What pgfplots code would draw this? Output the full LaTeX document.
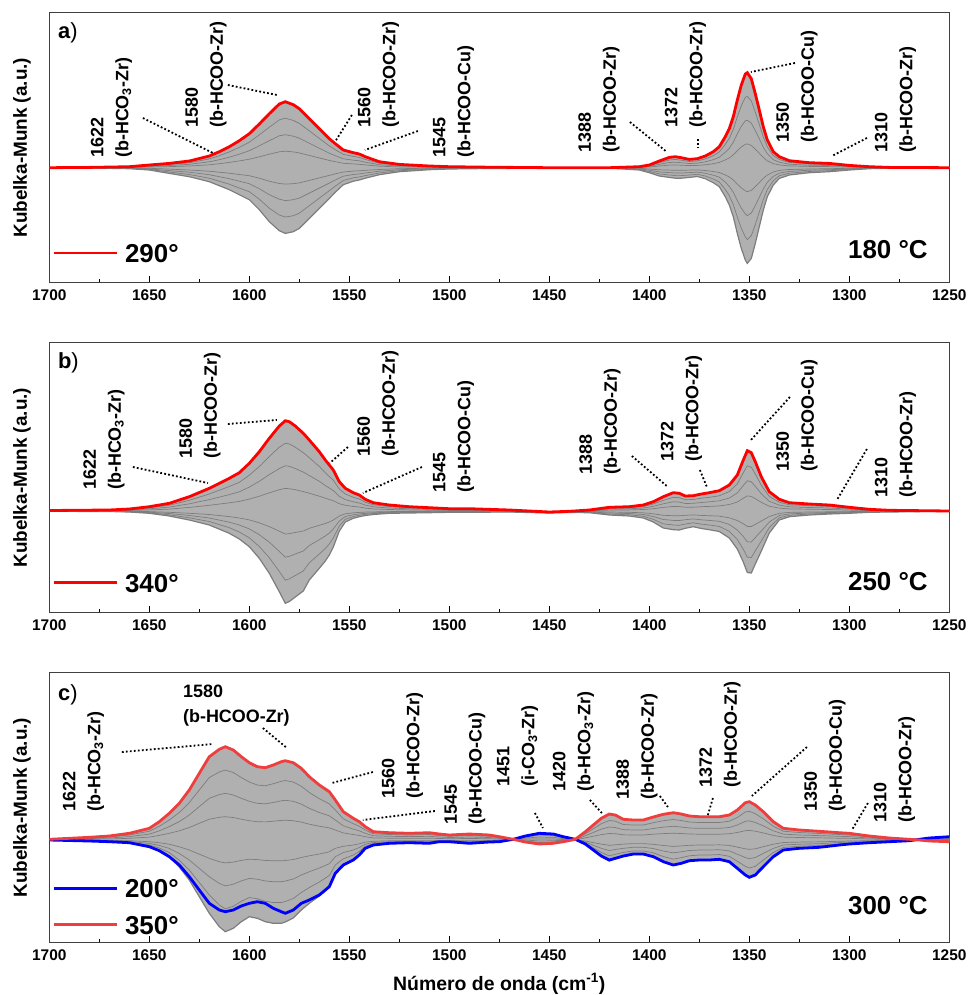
\documentclass[border=0pt]{standalone}
\usepackage{fontspec}
\setmainfont{Liberation Sans}
\usepackage{pgfplots}
\usepackage{pgfplotstable}
\usepgfplotslibrary{fillbetween}
\pgfplotsset{compat=1.18}

\definecolor{kred}{RGB}{255,0,0}
\definecolor{kredc}{RGB}{238,62,62}
\definecolor{kblue}{RGB}{0,0,255}
\definecolor{kgray}{RGB}{125,125,125}
\definecolor{kfill}{RGB}{176,176,176}

% panel a: x, red (290), lower gray envelope, intermediate gray spectra
\pgfplotstableread{
x R L a1 a2 a3 b1 b2 b3
1700 0 0 0 0 0 0 0 0
1680 0.3 -0.3 0.2 0.2 0.1 -0.1 -0.2 -0.2
1660 1 -1 0.8 0.5 0.3 -0.3 -0.5 -0.8
1650 2.7 -2.3 2.0 1.4 0.7 -0.6 -1.2 -1.7
1640 4.3 -5.7 3.2 2.2 1.1 -1.4 -2.9 -4.3
1630 6.7 -9 5.0 3.4 1.7 -2.3 -4.5 -6.8
1620 11.7 -14 8.8 5.9 2.9 -3.5 -7 -10.5
1615 16 -18 12 8 4 -4.5 -9 -13.5
1610 21 -22 15.8 10.5 5.3 -5.5 -11 -16.5
1605 27 -27 20.3 13.5 6.8 -6.8 -13.5 -20.3
1600 34 -32 25.5 17 8.5 -8 -16 -24
1595 43.7 -42 32.8 21.9 10.9 -10.5 -21 -31.5
1590 54 -54 40.5 27 13.5 -13.5 -27 -40.5
1585 63.7 -63 47.8 31.9 15.9 -15.8 -31.5 -47.3
1582 66 -65.7 49.5 33 16.5 -16.4 -32.9 -49.3
1578 63 -64 47.3 31.5 15.8 -16 -32 -48
1575 59 -60.7 44.3 29.5 14.8 -15.2 -30.4 -45.5
1570 49 -50.7 36.8 24.5 12.3 -12.7 -25.4 -38
1565 39 -40.7 29.3 19.5 9.8 -10.2 -20.4 -30.5
1560 29 -30.7 21.8 14.5 7.3 -7.7 -15.4 -23
1557 24 -24.5 18 12 6 -6.1 -12.3 -18.4
1553 17.7 -17 13.3 8.9 4.4 -4.3 -8.5 -12.8
1548 15 -13.5 11.3 7.5 3.8 -3.4 -6.8 -10.1
1545 13.7 -12.3 10.3 6.9 3.4 -3.1 -6.2 -9.2
1542 11 -10.5 8.3 5.5 2.8 -2.6 -5.3 -7.9
1535 6 -7 4.5 3 1.5 -1.8 -3.5 -5.3
1525 3.3 -4 2.5 1.7 0.8 -1 -2 -3
1510 1.7 -2 1.3 0.9 0.4 -0.5 -1 -1.5
1500 1 -1.3 0.8 0.5 0.3 -0.3 -0.7 -1
1480 0.5 -0.8 0.4 0.3 0.1 -0.2 -0.4 -0.6
1450 0 -0.5 0 0 0 -0.1 -0.3 -0.4
1420 0 -0.5 0 0 0 -0.1 -0.3 -0.4
1405 1 -2.3 0.8 0.5 0.3 -0.6 -1.2 -1.7
1400 2.7 -5 2 1.4 0.7 -1.3 -2.5 -3.8
1395 6.7 -8.3 5 3.4 1.7 -2.1 -4.2 -6.2
1390 10.3 -9.7 7.7 5.2 2.6 -2.4 -4.9 -7.3
1387 11 -10.5 8.3 5.5 2.8 -2.6 -5.3 -7.9
1384 10 -10.5 7.5 5 2.5 -2.6 -5.3 -7.9
1380 8.3 -9.7 6.2 4.2 2.1 -2.4 -4.9 -7.3
1376 9 -8.8 6.8 4.5 2.3 -2.2 -4.4 -6.6
1372 11.7 -11 8.8 5.9 2.9 -2.8 -5.5 -8.3
1368 16 -15 12 8 4 -3.8 -7.5 -11.3
1365 21 -19 15.8 10.5 5.3 -4.8 -9.5 -14.3
1362 31 -29 23.3 15.5 7.8 -7.3 -14.5 -21.8
1360 39 -37.3 29.3 19.5 9.8 -9.3 -18.7 -28
1358 51 -49 38.3 25.5 12.8 -12.3 -24.5 -36.8
1356 67.7 -65.7 50.8 33.9 16.9 -16.4 -32.9 -49.3
1354 82.7 -80.7 62 41.4 20.7 -20.2 -40.4 -60.5
1352 93.7 -92.3 70.3 46.9 23.4 -23.1 -46.2 -69.2
1351 95 -95.7 71.3 47.5 23.8 -23.9 -47.9 -71.8
1349 89 -90.7 66.8 44.5 22.3 -22.7 -45.4 -68
1347 74 -75.7 55.5 37 18.5 -18.9 -37.9 -56.8
1345 57.7 -59 43.3 28.9 14.4 -14.8 -29.5 -44.3
1343 41 -42.3 30.8 20.5 10.3 -10.6 -21.2 -31.7
1341 27.7 -29 20.8 13.9 6.9 -7.3 -14.5 -21.8
1338 16 -17.3 12 8 4 -4.3 -8.7 -13
1335 11 -10.7 8.3 5.5 2.8 -2.7 -5.4 -8
1330 7 -7.3 5.3 3.5 1.8 -1.8 -3.7 -5.5
1320 5 -5 3.8 2.5 1.3 -1.3 -2.5 -3.8
1310 4.3 -4 3.2 2.2 1.1 -1 -2 -3
1300 2.3 -2.3 1.7 1.2 0.6 -0.6 -1.2 -1.7
1290 1 -1 0.8 0.5 0.3 -0.3 -0.5 -0.8
1280 0.3 -0.5 0.2 0.2 0.1 -0.1 -0.3 -0.4
1250 0 0 0 0 0 0 0 0
}\tabA

% panel b: x, red (340), lower gray envelope, intermediate gray spectra
\pgfplotstableread{
x R L a1 a2 a3 b1 b2 b3
1700 0.5 -0.3 0.4 0.3 0.1 -0.1 -0.2 -0.2
1670 1 -0.5 0.8 0.5 0.3 -0.1 -0.3 -0.4
1660 2 -1 1.5 1 0.5 -0.3 -0.5 -0.8
1650 4.3 -2.3 3.2 2.2 1.1 -0.6 -1.2 -1.7
1640 7.7 -5 5.8 3.9 1.9 -1.3 -2.5 -3.8
1630 14.3 -9 10.7 7.2 3.6 -2.3 -4.5 -6.8
1620 22.7 -14 17 11.4 5.7 -3.5 -7 -10.5
1610 32.7 -22.3 24.5 16.4 8.2 -5.6 -11.2 -16.7
1605 38.3 -28 28.7 19.2 9.6 -7 -14 -21
1600 47.7 -35.7 35.8 23.9 11.9 -8.9 -17.9 -26.8
1595 59.3 -47.3 44.5 29.7 14.8 -11.8 -23.7 -35.5
1590 72.7 -62.3 54.5 36.4 18.2 -15.6 -31.2 -46.7
1585 85 -80.7 63.8 42.5 21.3 -20.2 -40.4 -60.5
1582 90.3 -92.3 67.7 45.2 22.6 -23.1 -46.2 -69.2
1580 89.3 -90.5 67 44.7 22.3 -22.6 -45.3 -67.9
1577 85 -86 63.8 42.5 21.3 -21.5 -43 -64.5
1573 77.7 -80 58.3 38.9 19.4 -20 -40 -60
1570 71 -69 53.3 35.5 17.8 -17.3 -34.5 -51.8
1565 59.3 -57.3 44.5 29.7 14.8 -14.3 -28.7 -43
1562 51 -50 38.3 25.5 12.8 -12.5 -25 -37.5
1560 46 -44 34.5 23 11.5 -11 -22 -33
1558 41 -36 30.8 20.5 10.3 -9 -18 -27
1555 29.3 -20 22 14.7 7.3 -5 -10 -15
1552 22.7 -11 17 11.4 5.7 -2.8 -5.5 -8.3
1548 18.3 -7.3 13.7 9.2 4.6 -1.8 -3.7 -5.5
1545 16 -5.7 12 8 4 -1.4 -2.9 -4.3
1542 11.7 -4.5 8.8 5.9 2.9 -1.1 -2.3 -3.4
1538 8.3 -3.5 6.2 4.2 2.1 -0.9 -1.8 -2.6
1530 6 -2.3 4.5 3 1.5 -0.6 -1.2 -1.7
1520 4.3 -2 3.2 2.2 1.1 -0.5 -1 -1.5
1510 3.3 -1.7 2.5 1.7 0.8 -0.4 -0.9 -1.3
1500 2.3 -1.3 1.7 1.2 0.6 -0.3 -0.7 -1
1490 2.3 -1.3 1.7 1.2 0.6 -0.3 -0.7 -1
1470 1 -1 0.8 0.5 0.3 -0.3 -0.5 -0.8
1450 -1 -2 -1 -1.2 -1.4 -1.5 -1.7 -1.8
1440 -0.3 -1.5 -0.5 -0.7 -0.9 -1 -1.2 -1.3
1430 1 -1.7 0.8 0.5 0.3 -0.4 -0.9 -1.3
1420 3.7 -4 2.8 1.9 0.9 -1 -2 -3
1410 4.3 -5 3.2 2.2 1.1 -1.3 -2.5 -3.8
1403 6 -7 4.5 3 1.5 -1.8 -3.5 -5.3
1398 9.3 -11 7 4.7 2.3 -2.8 -5.5 -8.3
1393 14.3 -17 10.7 7.2 3.6 -4.3 -8.5 -12.8
1388 18.3 -18.7 13.7 9.2 4.6 -4.7 -9.4 -14
1385 17.7 -19 13.3 8.9 4.4 -4.8 -9.5 -14.3
1382 15 -17.3 11.3 7.5 3.8 -4.3 -8.7 -13
1378 15.3 -15.7 11.5 7.7 3.8 -3.9 -7.9 -11.8
1374 17 -17.5 12.8 8.5 4.3 -4.4 -8.8 -13.1
1370 18.3 -18.7 13.7 9.2 4.6 -4.7 -9.4 -14
1365 20.3 -20.5 15.2 10.2 5.1 -5.1 -10.3 -15.4
1360 26 -27 19.5 13 6.5 -6.8 -13.5 -20.3
1356 36 -38 27 18 9 -9.5 -19 -28.5
1353 51 -51 38.3 25.5 12.8 -12.8 -25.5 -38.3
1351 60.3 -61.5 45.2 30.2 15.1 -15.4 -30.8 -46.1
1349 58.3 -62 43.7 29.2 14.6 -15.5 -31 -46.5
1347 49.3 -53 37 24.7 12.3 -13.3 -26.5 -39.8
1344 34.3 -40 25.7 17.2 8.6 -10 -20 -30
1340 19.3 -22 14.5 9.7 4.8 -5.5 -11 -16.5
1335 11.7 -9 8.8 5.9 2.9 -2.3 -4.5 -6.8
1330 8.3 -5.7 6.2 4.2 2.1 -1.4 -2.9 -4.3
1320 7 -4 5.3 3.5 1.8 -1 -2 -3
1310 6 -3 4.5 3 1.5 -0.8 -1.5 -2.3
1300 3.7 -2.3 2.8 1.9 0.9 -0.6 -1.2 -1.7
1290 1.7 -1.3 1.3 0.9 0.4 -0.3 -0.7 -1
1280 0.7 -1 0.5 0.4 0.2 -0.3 -0.5 -0.8
1250 0 -0.3 0 0 0 -0.1 -0.2 -0.2
}\tabB

% panel c: x, red (350), blue (200), lower and upper gray envelope, intermediate gray spectra
\pgfplotstableread{
x R B L U a1 a2 a3 b1 b2 b3
1700 0.7 0 0 0.7 0.5 0.4 0.2 0 0 0
1680 2.7 -1 -1 2.7 2 1.4 0.7 -0.3 -0.5 -0.8
1670 4 -1.7 -1.7 4 3 2 1 -0.4 -0.9 -1.3
1660 6.7 -2.7 -2.7 6.7 5 3.4 1.7 -0.7 -1.4 -2
1650 11.7 -6.7 -6.7 11.7 8.8 5.9 2.9 -1.7 -3.4 -5
1645 18.3 -10.7 -10.7 18.3 13.7 9.2 4.6 -2.7 -5.4 -8
1640 26.7 -16.7 -16.7 26.7 20 13.4 6.7 -4.2 -8.4 -12.5
1635 36.7 -25 -27 36.7 27.5 18.4 9.2 -6.8 -13.5 -20.3
1630 50 -36.7 -40 50 37.5 25 12.5 -10 -20 -30
1625 66.7 -50 -56.7 66.7 50 33.4 16.7 -14.2 -28.4 -42.5
1620 83.3 -63.3 -73.3 83.3 62.5 41.7 20.8 -18.3 -36.7 -55
1615 90.7 -70 -86.7 90.7 68 45.4 22.7 -21.7 -43.4 -65
1612 93.3 -71.7 -91.7 93.3 70 46.7 23.3 -22.9 -45.9 -68.8
1608 90 -70 -88.3 90 67.5 45 22.5 -22.1 -44.2 -66.2
1604 83.3 -66 -81.7 83.3 62.5 41.7 20.8 -20.4 -40.9 -61.3
1600 77.3 -63.3 -76.7 77.3 58 38.7 19.3 -19.2 -38.4 -57.5
1596 73.3 -61.7 -78.3 73.3 55 36.7 18.3 -19.6 -39.2 -58.7
1592 72.3 -63.3 -81.7 72.3 54.2 36.2 18.1 -20.4 -40.9 -61.3
1588 75 -68.3 -83.3 75 56.3 37.5 18.8 -20.8 -41.7 -62.5
1584 78.3 -71.7 -83.3 78.3 58.7 39.2 19.6 -20.8 -41.7 -62.5
1582 79.3 -73.3 -82 79.3 59.5 39.7 19.8 -20.5 -41 -61.5
1578 77.3 -70 -78 77.3 58 38.7 19.3 -19.5 -39 -58.5
1574 71.7 -63.3 -70 71.7 53.8 35.9 17.9 -17.5 -35 -52.5
1570 63.3 -60 -63.3 63.3 47.5 31.7 15.8 -15.8 -31.7 -47.5
1565 55 -55 -56 55 41.3 27.5 13.8 -14 -28 -42
1560 48.3 -46.7 -47.3 48.3 36.2 24.2 12.1 -11.8 -23.7 -35.5
1557 40 -33.3 -33.3 40 30 20 10 -8.3 -16.7 -25
1553 28.3 -25 -25 28.3 21.2 14.2 7.1 -6.3 -12.5 -18.8
1548 21.7 -20 -20 21.7 16.3 10.9 5.4 -5 -10 -15
1545 18.3 -15 -15 18.3 13.7 9.2 4.6 -3.8 -7.5 -11.3
1542 13.3 -8.3 -8.3 13.3 10 6.7 3.3 -2.1 -4.2 -6.2
1538 8.3 -5 -5 8.3 6.2 4.2 2.1 -1.3 -2.5 -3.8
1530 7.3 -3.3 -3.3 7.3 5.5 3.7 1.8 -0.8 -1.7 -2.5
1520 6.7 -2.7 -2.7 6.7 5 3.4 1.7 -0.7 -1.4 -2
1510 7.3 -3.3 -3.3 7.3 5.5 3.7 1.8 -0.8 -1.7 -2.5
1505 6 -1.7 -1.7 6 4.5 3 1.5 -0.4 -0.9 -1.3
1500 5 -1.7 -1.7 5 3.8 2.5 1.3 -0.4 -0.9 -1.3
1490 6 -3.3 -3.3 6 4.5 3 1.5 -0.8 -1.7 -2.5
1480 5 -2 -2 5 3.8 2.5 1.3 -0.5 -1 -1.5
1475 3.3 -1.7 -1.7 3.3 2.5 1.7 0.8 -0.4 -0.9 -1.3
1468 0.7 0.7 0.7 0.7 0.5 0.4 0.2 0.2 0.4 0.5
1462 -2 4 -2 4 3 2 1 0 -1 -1.5
1455 -4 6.7 -4 6.7 5 3 1 -1 -2.5 -3.5
1448 -3.3 6 -3.3 6 4.5 2.7 1 -0.7 -2 -3
1443 -1.7 3.3 -1.7 3.3 2.3 1.3 0.5 -0.3 -0.8 -1.3
1437 0.7 0.7 0.7 0.7 0.5 0.4 0.2 0.2 0.4 0.5
1432 8.3 -4 -4 8.3 6.2 4.2 2.1 -1 -2 -3
1428 15 -10 -10.5 15 11.3 7.5 3.8 -2.6 -5.3 -7.9
1424 21.7 -16 -16.5 21.7 16.3 10.9 5.4 -4.1 -8.3 -12.4
1420 26 -20 -21 26 19.5 13 6.5 -5.3 -10.5 -15.8
1417 25 -18.3 -19 25 18.8 12.5 6.3 -4.8 -9.5 -14.3
1413 20.7 -16 -16.5 20.7 15.5 10.4 5.2 -4.1 -8.3 -12.4
1408 20 -14 -14.5 20 15 10 5 -3.6 -7.3 -10.9
1403 20 -14 -14.5 20 15 10 5 -3.6 -7.3 -10.9
1398 23 -16.7 -17 23 17.3 11.5 5.8 -4.3 -8.5 -12.8
1393 25.7 -21.7 -22 25.7 19.3 12.9 6.4 -5.5 -11 -16.5
1388 27.3 -25 -25.5 27.3 20.5 13.7 6.8 -6.4 -12.8 -19.1
1384 26 -23.3 -23.5 26 19.5 13 6.5 -5.9 -11.8 -17.6
1380 24 -20.7 -21 24 18 12 6 -5.3 -10.5 -15.8
1375 23.3 -20 -20 23.3 17.5 11.7 5.8 -5 -10 -15
1370 23.3 -20 -20 23.3 17.5 11.7 5.8 -5 -10 -15
1365 23.3 -19.3 -19.3 23.3 17.5 11.7 5.8 -4.8 -9.7 -14.5
1360 25 -21.7 -21.7 25 18.8 12.5 6.3 -5.4 -10.9 -16.3
1356 30 -28.3 -28.3 30 22.5 15 7.5 -7.1 -14.2 -21.2
1352 37.3 -35 -35 37.3 28 18.7 9.3 -8.8 -17.5 -26.3
1350 38.3 -37.3 -37.3 38.3 28.7 19.2 9.6 -9.3 -18.7 -28
1347 35 -35 -35 35 26.3 17.5 8.8 -8.8 -17.5 -26.3
1343 28.3 -26.7 -26.7 28.3 21.2 14.2 7.1 -6.7 -13.4 -20
1338 18.3 -16.7 -16.7 18.3 13.7 9.2 4.6 -4.2 -8.4 -12.5
1333 11.7 -10 -10 11.7 8.8 5.9 2.9 -2.5 -5 -7.5
1325 10 -8.3 -8.3 10 7.5 5 2.5 -2.1 -4.2 -6.2
1315 8.7 -7.3 -7.3 8.7 6.5 4.4 2.2 -1.8 -3.7 -5.5
1305 7.3 -5 -5 7.3 5.5 3.7 1.8 -1.3 -2.5 -3.8
1300 6.7 -4 -4 6.7 5 3.4 1.7 -1 -2 -3
1290 4 -2.7 -2.7 4 3 2 1 -0.7 -1.4 -2
1280 2 -1.7 -1.7 2 1.5 1 0.5 -0.4 -0.9 -1.3
1270 0.7 -0.7 -0.7 0.7 0.5 0.4 0.2 -0.2 -0.4 -0.5
1265 0 0.7 0 0.7 0.5 0.3 0.2 0.1 0 0
1260 -1 2 -1 2 1.5 1 0.5 0 -0.5 -0.8
1250 -1.7 3.3 -1.7 3.3 2.5 1.5 0.5 -0.3 -1 -1.4
}\tabC

\pgfplotsset{
  panel/.style={
    width=900bp, height=270bp, scale only axis,
    xmin=1250, xmax=1700, x dir=reverse,
    xtick={1250,1300,...,1700}, minor x tick num=1,
    xtick pos=left, ytick=\empty,
    tick align=inside,
    major tick length=7bp, minor tick length=4bp,
    every tick/.style={black, line width=1bp},
    axis line style={line width=1.3bp, black!75},
    /pgf/number format/assume math mode=true,
    /pgf/number format/1000 sep={},
    xticklabel style={font=\bfseries\fontsize{15.5}{16}\selectfont, yshift=-3bp},
    ylabel={Kubelka-Munk (a.u.)},
    ylabel style={font=\bfseries\fontsize{19}{20}\selectfont, at={(axis description cs:-0.0303,0.5)}, anchor=center},
    clip mode=individual,
    legend cell align=left,
    legend style={draw=none, fill=none, inner sep=0pt, outer sep=0pt, anchor=west,
      font=\bfseries\fontsize{26}{26}\selectfont,
      nodes={inner sep=0pt, text height=18.6bp, text depth=0bp},
      row sep=18bp,
      /tikz/every odd column/.append style={column sep=7bp}},
    legend image code/.code={\draw[##1] (0bp,0bp) -- (63bp,0bp);},
  },
  gl/.style={kgray, line width=0.7bp, forget plot},
}
\tikzset{
  ann/.style={rotate=90, anchor=west, align=left, inner sep=0pt, font=\bfseries\fontsize{18}{25}\selectfont},
  leader/.style={black, line width=1.8bp, dash pattern=on 1.8bp off 2.2bp},
  tlab/.style={font=\bfseries\fontsize{26}{26}\selectfont, inner sep=0pt},
  plab/.style={anchor=west, inner sep=0pt, font=\fontsize{22}{22}\selectfont},
}

\begin{document}
\begin{tikzpicture}

% ---------------- panel a ----------------
\begin{axis}[panel, at={(49.3bp,-282.7bp)}, anchor=south west, ymin=-115, ymax=155,
  legend style={at={(axis description cs:0.0033,0.11)}}]
\addplot[draw=none, name path=Ua, forget plot] table[x=x, y=R] {\tabA};
\addplot[draw=none, name path=La, forget plot] table[x=x, y=L] {\tabA};
\addplot[kfill, forget plot] fill between[of=Ua and La];
\addplot[gl] table[x=x, y=a1] {\tabA};
\addplot[gl] table[x=x, y=a2] {\tabA};
\addplot[gl] table[x=x, y=a3] {\tabA};
\addplot[gl] table[x=x, y=b1] {\tabA};
\addplot[gl] table[x=x, y=b2] {\tabA};
\addplot[gl] table[x=x, y=b3] {\tabA};
\addplot[gl, line width=1.2bp] table[x=x, y=L] {\tabA};
\addplot[kred, line width=2.8bp] table[x=x, y=R] {\tabA};
\addlegendentry{290°}
\node[plab] at (axis cs:1695.7,134.7) {\textbf{a})};
\node[tlab] at (axis cs:1280.7,-82.3) {180 °C};
\node[ann] at (axis cs:1668.9,9.7) {1622\\(b-HCO\textsubscript{3}-Zr)};
\node[ann] at (axis cs:1621.7,39.7) {1580\\(b-HCOO-Zr)};
\node[ann] at (axis cs:1535.4,39.7) {1560\\(b-HCOO-Zr)};
\node[ann] at (axis cs:1497.9,9.7) {1545\\(b-HCOO-Cu)};
\node[ann] at (axis cs:1425.2,14.7) {1388\\(b-HCOO-Zr)};
\node[ann] at (axis cs:1381.9,39.7) {1372\\(b-HCOO-Zr)};
\node[ann] at (axis cs:1326.2,24.7) {1350\\(b-HCOO-Cu)};
\node[ann] at (axis cs:1276.9,14.7) {1310\\(b-HCOO-Zr)};
\draw[leader] (axis cs:1653.2,49.7) -- (axis cs:1618.2,14.7);
\draw[leader] (axis cs:1610.7,82.7) -- (axis cs:1586.2,72.7);
\draw[leader] (axis cs:1548.7,52.7) -- (axis cs:1557.2,25.7);
\draw[leader] (axis cs:1515.7,36.7) -- (axis cs:1542.2,17.7);
\draw[leader] (axis cs:1409.7,45.7) -- (axis cs:1391.2,15.7);
\draw[leader] (axis cs:1375.7,28.7) -- (axis cs:1375.7,19.7);
\draw[leader] (axis cs:1327.2,104.7) -- (axis cs:1349.2,95.7);
\draw[leader] (axis cs:1291.2,29.7) -- (axis cs:1308.7,11.7);
\end{axis}

% ---------------- panel b ----------------
\begin{axis}[panel, at={(49.3bp,-612.7bp)}, anchor=south west, ymin=-101.7, ymax=168.3,
  legend style={at={(axis description cs:0.0033,0.111)}}]
\addplot[draw=none, name path=Ub, forget plot] table[x=x, y=R] {\tabB};
\addplot[draw=none, name path=Lb, forget plot] table[x=x, y=L] {\tabB};
\addplot[kfill, forget plot] fill between[of=Ub and Lb];
\addplot[gl] table[x=x, y=a1] {\tabB};
\addplot[gl] table[x=x, y=a2] {\tabB};
\addplot[gl] table[x=x, y=a3] {\tabB};
\addplot[gl] table[x=x, y=b1] {\tabB};
\addplot[gl] table[x=x, y=b2] {\tabB};
\addplot[gl] table[x=x, y=b3] {\tabB};
\addplot[gl, line width=1.2bp] table[x=x, y=L] {\tabB};
\addplot[kred, line width=2.8bp] table[x=x, y=R] {\tabB};
\addlegendentry{340°}
\node[plab] at (axis cs:1695.7,148) {\textbf{b})};
\node[tlab] at (axis cs:1280.7,-71) {250 °C};
\node[ann] at (axis cs:1672.7,21) {1622\\(b-HCO\textsubscript{3}-Zr)};
\node[ann] at (axis cs:1624.7,52) {1580\\(b-HCOO-Zr)};
\node[ann] at (axis cs:1535.7,54) {1560\\(b-HCOO-Zr)};
\node[ann] at (axis cs:1497.9,18) {1545\\(b-HCOO-Cu)};
\node[ann] at (axis cs:1424.7,36) {1388\\(b-HCOO-Zr)};
\node[ann] at (axis cs:1383.9,49) {1372\\(b-HCOO-Zr)};
\node[ann] at (axis cs:1326.2,39) {1350\\(b-HCOO-Cu)};
\node[ann] at (axis cs:1276.9,13) {1310\\(b-HCOO-Zr)};
\draw[leader] (axis cs:1658.2,44) -- (axis cs:1620.7,28);
\draw[leader] (axis cs:1610.7,87) -- (axis cs:1586.2,91);
\draw[leader] (axis cs:1550.7,64) -- (axis cs:1559.7,48);
\draw[leader] (axis cs:1513.7,44) -- (axis cs:1543.2,18);
\draw[leader] (axis cs:1408.7,55) -- (axis cs:1390.7,24);
\draw[leader] (axis cs:1374.7,41) -- (axis cs:1371.2,24);
\draw[leader] (axis cs:1329.7,114) -- (axis cs:1349.2,71);
\draw[leader] (axis cs:1291.2,62) -- (axis cs:1306.2,11);
\end{axis}

% ---------------- panel c ----------------
\begin{axis}[panel, at={(49.3bp,-942.7bp)}, anchor=south west, ymin=-102.7, ymax=167.3,
  legend style={at={(axis description cs:0.0033,0.134)}},
  xlabel={Número de onda (cm\textsuperscript{-1})},
  xlabel style={font=\bfseries\fontsize{19.5}{20}\selectfont, at={(axis description cs:0.5,-0.153)}, anchor=center}]
\addplot[draw=none, name path=Uc, forget plot] table[x=x, y=U] {\tabC};
\addplot[draw=none, name path=Lc, forget plot] table[x=x, y=L] {\tabC};
\addplot[kfill, forget plot] fill between[of=Uc and Lc];
\addplot[gl] table[x=x, y=a1] {\tabC};
\addplot[gl] table[x=x, y=a2] {\tabC};
\addplot[gl] table[x=x, y=a3] {\tabC};
\addplot[gl] table[x=x, y=b1] {\tabC};
\addplot[gl] table[x=x, y=b2] {\tabC};
\addplot[gl] table[x=x, y=b3] {\tabC};
\addplot[gl, line width=1.2bp] table[x=x, y=L] {\tabC};
\addplot[kblue, line width=2.8bp] table[x=x, y=B] {\tabC};
\addlegendentry{200°}
\addplot[kredc, line width=2.8bp] table[x=x, y=R] {\tabC};
\addlegendentry{350°}
\node[plab] at (axis cs:1695.7,145) {\textbf{c})};
\node[tlab] at (axis cs:1280.7,-66) {300 °C};
\node[ann] at (axis cs:1682.9,28) {1622\\(b-HCO\textsubscript{3}-Zr)};
\node[anchor=west, align=left, inner sep=0pt, font=\bfseries\fontsize{18}{25}\selectfont] at (axis cs:1633.2,134.5) {1580\\(b-HCOO-Zr)};
\node[ann] at (axis cs:1523.4,41) {1560\\(b-HCOO-Zr)};
\node[ann] at (axis cs:1492.2,15) {1545\\(b-HCOO-Cu)};
\node[ann] at (axis cs:1465.9,53) {1451\\(i-CO\textsubscript{3}-Zr)};
\node[ann] at (axis cs:1437.9,48) {1420\\(b-HCO\textsubscript{3}-Zr)};
\node[ann] at (axis cs:1406.2,40) {1388\\(b-HCOO-Zr)};
\node[ann] at (axis cs:1364.7,52) {1372\\(b-HCOO-Zr)};
\node[ann] at (axis cs:1312.2,28) {1350\\(b-HCOO-Cu)};
\node[ann] at (axis cs:1277.4,17) {1310\\(b-HCOO-Zr)};
\draw[leader] (axis cs:1663.7,88) -- (axis cs:1618.2,96);
\draw[leader] (axis cs:1593.2,112) -- (axis cs:1581.2,92);
\draw[leader] (axis cs:1538.2,68) -- (axis cs:1558.7,57);
\draw[leader] (axis cs:1507.2,29) -- (axis cs:1543.2,20);
\draw[leader] (axis cs:1457.2,27) -- (axis cs:1453.2,12);
\draw[leader] (axis cs:1429.7,40) -- (axis cs:1423.7,27);
\draw[leader] (axis cs:1394.7,44) -- (axis cs:1390.7,33);
\draw[leader] (axis cs:1368.2,42) -- (axis cs:1370.7,25);
\draw[leader] (axis cs:1321.2,93) -- (axis cs:1348.7,44);
\draw[leader] (axis cs:1290.7,37) -- (axis cs:1298.7,10);
\end{axis}
\pgfresetboundingbox
\useasboundingbox (0bp,0bp) rectangle (970bp,-995bp);
\end{tikzpicture}
\end{document}
